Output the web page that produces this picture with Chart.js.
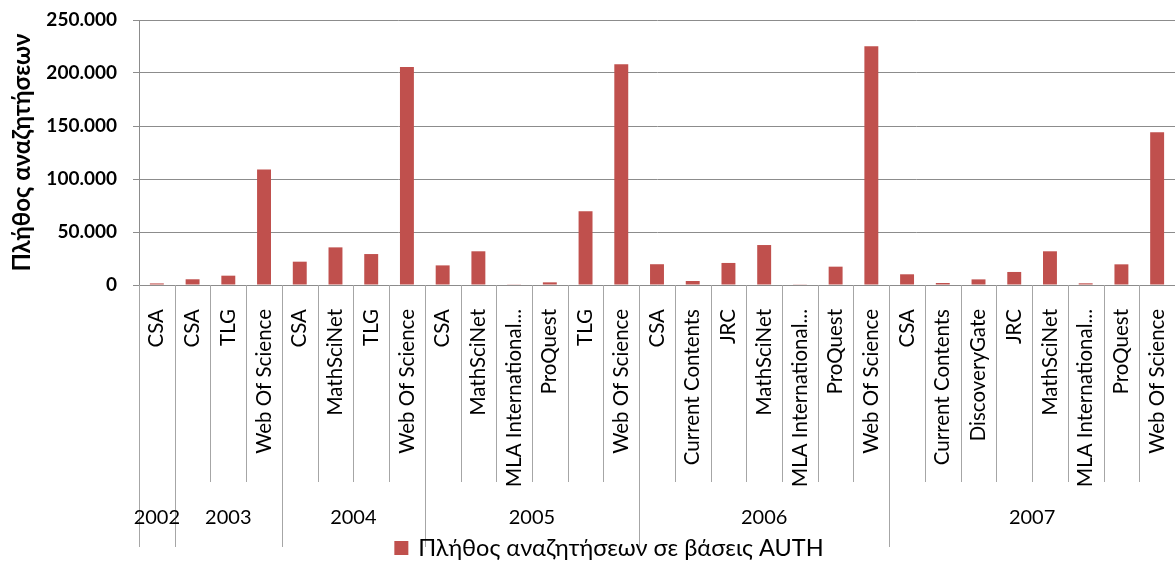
<!DOCTYPE html>
<html><head><meta charset="utf-8">
<script src="https://cdn.jsdelivr.net/npm/chart.js@4"></script>
<style>html,body{margin:0;padding:0;background:#fff;overflow:hidden}#wrap{width:1176px;height:561px;overflow:hidden}</style>
</head><body><div id="wrap"><canvas id="c" width="1175" height="561"></canvas></div>
<script>
const categories = [
  'CSA',
  'CSA','TLG','Web Of Science',
  'CSA','MathSciNet','TLG','Web Of Science',
  'CSA','MathSciNet','MLA International...','ProQuest','TLG','Web Of Science',
  'CSA','Current Contents','JRC','MathSciNet','MLA International...','ProQuest','Web Of Science',
  'CSA','Current Contents','DiscoveryGate','JRC','MathSciNet','MLA International...','ProQuest','Web Of Science'
];
const categoryYears = [
  '2002',
  '2003','2003','2003',
  '2004','2004','2004','2004',
  '2005','2005','2005','2005','2005','2005',
  '2006','2006','2006','2006','2006','2006','2006',
  '2007','2007','2007','2007','2007','2007','2007','2007'
];
const searches = [
  1500,
  5400, 8800, 109000,
  22000, 35500, 29200, 205700,
  18500, 31800, 300, 2500, 69500, 208200,
  19600, 3800, 20800, 37700, 300, 17300, 225200,
  10100, 1900, 5300, 12300, 31800, 1600, 19500, 144000
];
const seriesLabel = 'Πλήθος αναζητήσεων σε βάσεις AUTH';
const yAxisTitle = 'Πλήθος αναζητήσεων';
const yMin = 0, yMax = 250000, yStep = 50000;

const FONT = 'Lato, "Open Sans", "Noto Sans", sans-serif';
const GRID = '#8c8c8c';
const SEP = '#a6a6a6';
const BAR = '#C0504D';

function fmt(v){ return String(v).replace(/\B(?=(\d{3})+(?!\d))/g, '.'); }

const groupAxis = {
  id: 'groupAxis',
  afterDraw(chart){
    const ctx = chart.ctx, x = chart.scales.x, base = chart.chartArea.bottom;
    const n = categories.length;
    const step = x.getPixelForValue(1) - x.getPixelForValue(0);
    const bounds = [];
    for (let i = 0; i <= n; i++){
      if (i === 0) bounds.push(x.getPixelForValue(0) - step/2);
      else if (i === n) bounds.push(x.getPixelForValue(n-1) + step/2);
      else bounds.push((x.getPixelForValue(i-1) + x.getPixelForValue(i))/2);
    }
    ctx.save();
    ctx.lineWidth = 1;
    ctx.strokeStyle = SEP;
    for (let i = 0; i < n; i++){
      const yb = (i === 0 || categoryYears[i] !== categoryYears[i-1]);
      const px = Math.round(bounds[i]) + 0.5;
      ctx.beginPath();
      ctx.moveTo(px, base);
      ctx.lineTo(px, base + (yb ? 262 : 197));
      ctx.stroke();
    }
    // year labels
    ctx.fillStyle = '#000';
    ctx.font = '20px ' + FONT;
    ctx.textAlign = 'center';
    ctx.textBaseline = 'middle';
    let start = 0;
    for (let i = 1; i <= n; i++){
      if (i === n || categoryYears[i] !== categoryYears[start]){
        const cx = (bounds[start] + bounds[i]) / 2;
        ctx.fillText(categoryYears[start], cx, base + 233);
        start = i;
      }
    }
    // legend
    const ds = chart.data.datasets[0];
    ctx.font = '23.5px ' + FONT;
    const tw = ctx.measureText(ds.label).width;
    const box = 14, gap = 10;
    const total = box + gap + tw;
    const lx = 609 - total/2, ly = base + 263;
    ctx.fillStyle = ds.backgroundColor;
    ctx.fillRect(lx, ly - box/2, box, box);
    ctx.fillStyle = '#000';
    ctx.textAlign = 'left';
    ctx.fillText(ds.label, lx + box + gap, ly);
    ctx.restore();
  }
};

new Chart(document.getElementById('c'), {
  type: 'bar',
  data: {
    labels: categories,
    datasets: [{
      label: seriesLabel,
      data: searches,
      backgroundColor: BAR,
      borderWidth: 0,
      barPercentage: 0.39,
      categoryPercentage: 1.0
    }]
  },
  options: {
    responsive: false,
    animation: false,
    devicePixelRatio: 1,
    layout: { padding: { top: 20, right: 0, bottom: 0, left: 0 } },
    plugins: { legend: { display: false }, tooltip: { enabled: false } },
    scales: {
      x: {
        offset: true,
        grid: { display: false, drawTicks: false },
        border: { display: true, color: GRID, width: 1 },
        ticks: {
          autoSkip: false, maxRotation: 90, minRotation: 90,
          padding: 24, color: '#000',
          font: { family: FONT, size: 20.5 }
        },
        afterFit(s){ s.height = 276; s.paddingLeft = 0; s.paddingRight = 0; }
      },
      y: {
        min: yMin, max: yMax,
        grid: { color: GRID, lineWidth: 1, drawTicks: true, tickLength: 6 },
        border: { display: true, color: GRID, width: 1 },
        ticks: {
          stepSize: yStep, padding: 16, color: '#000',
          font: { family: FONT, size: 19, weight: 'bold' },
          callback: v => fmt(v)
        },
        title: {
          display: true, text: yAxisTitle, color: '#000',
          font: { family: FONT, size: 24, weight: 'bold' },
          padding: { top: 8, bottom: 0 }
        },
        afterFit(s){ s.width = 139; s.paddingTop = 0; s.paddingBottom = 0; }
      }
    }
  },
  plugins: [groupAxis]
});
</script>
</body></html>
